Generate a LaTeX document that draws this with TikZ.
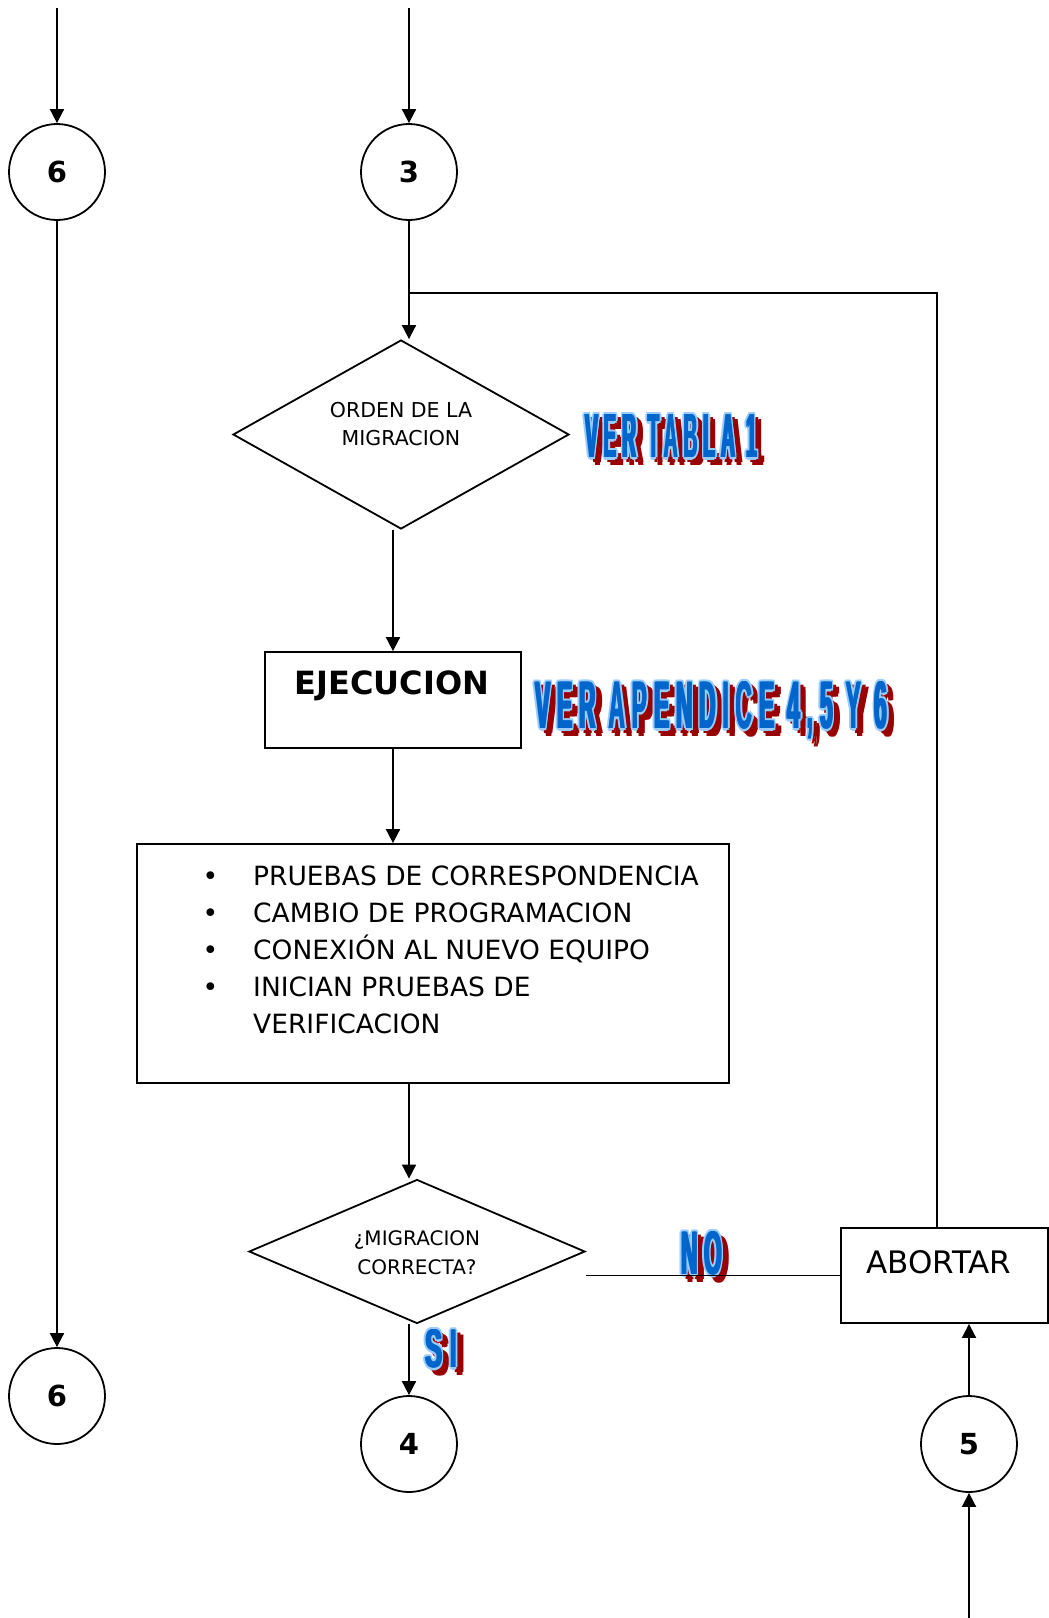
\documentclass[tikz,border=0pt]{standalone}
\usepackage{fontspec}
\usepackage{graphicx}
\setmainfont{DejaVu Sans}
\newfontfamily\wafont{Liberation Sans}[LetterSpace=30]
\usetikzlibrary{shapes.geometric,arrows.meta}
\definecolor{waBlue}{HTML}{0066CC}
\definecolor{waLight}{HTML}{99CCFF}
\definecolor{waRed}{HTML}{990000}
\newcommand\waG[3]{\resizebox{#1}{#2}{\wafont\bfseries #3}}
\newcommand\wacopy[6]{\rlap{\hspace*{#1}\raisebox{#2}{\textcolor{#3}{\waG{#4}{#5}{#6}}}}}
\newcommand\wart[3]{%
  \wacopy{3pt}{-5pt}{waRed}{#1}{#2}{#3}%
  \wacopy{8pt}{-5pt}{waRed}{#1}{#2}{#3}%
  \wacopy{5.5pt}{-3pt}{waRed}{#1}{#2}{#3}%
  \wacopy{5.5pt}{-8pt}{waRed}{#1}{#2}{#3}%
  \wacopy{7.5pt}{-7.5pt}{waRed}{#1}{#2}{#3}%
  \wacopy{-2.5pt}{0pt}{waLight}{#1}{#2}{#3}%
  \wacopy{2.5pt}{0pt}{waLight}{#1}{#2}{#3}%
  \wacopy{0pt}{2.5pt}{waLight}{#1}{#2}{#3}%
  \wacopy{0pt}{-2.5pt}{waLight}{#1}{#2}{#3}%
  \wacopy{1.8pt}{1.8pt}{waLight}{#1}{#2}{#3}%
  \wacopy{-1.8pt}{1.8pt}{waLight}{#1}{#2}{#3}%
  \wacopy{1.8pt}{-1.8pt}{waLight}{#1}{#2}{#3}%
  \wacopy{-1.8pt}{-1.8pt}{waLight}{#1}{#2}{#3}%
  \wacopy{-0.8pt}{0pt}{waBlue}{#1}{#2}{#3}%
  \wacopy{0.8pt}{0pt}{waBlue}{#1}{#2}{#3}%
  \textcolor{waBlue}{\waG{#1}{#2}{#3}}}
\begin{document}
\begin{tikzpicture}[x=1pt,y=-1pt,
  ln/.style={line width=1.8pt,draw=black},
  arr/.style={-{Triangle[width=14pt,length=14pt]}},
  conn/.style={circle,draw,line width=1.8pt,minimum size=96pt,inner sep=0pt,
    font=\fontsize{29pt}{34pt}\selectfont\bfseries},
  boxn/.style={rectangle,draw,line width=1.8pt,inner sep=0pt},
  dia/.style={diamond,draw,line width=1.8pt,aspect=2,inner sep=0pt},
  txt/.style={inner sep=0pt,align=center},
  wa/.style={inner sep=0pt,anchor=north west}]
\useasboundingbox (0,0) rectangle (1049,1618);
% connectors (circles)
\node[conn] (c6a) at (57,172) {6};
\node[conn] (c3) at (409,172) {3};
\node[conn] (c6b) at (57,1396) {6};
\node[conn] (c4) at (409,1444) {4};
\node[conn] (c5) at (969,1444) {5};
% shapes
\node[dia,minimum width=336pt,minimum height=189pt] (d1) at (401,434.5) {};
\node[txt,font=\fontsize{20.5pt}{28pt}\selectfont] (d1t) at (401,424) {ORDEN DE LA\\MIGRACION};
\node[boxn,minimum width=256pt,minimum height=96pt] (ej) at (393,700) {};
\node[txt,font=\fontsize{32pt}{36pt}\selectfont\bfseries] (ejt) at (392,686) {EJECUCION};
\node[boxn,minimum width=592pt,minimum height=239pt] (big) at (433,963.5) {};
\node[inner sep=0pt,anchor=north west,align=left,font=\fontsize{26.5pt}{37pt}\selectfont] (lst) at (253,865.5)
  {\llap{\textbullet\hspace{35pt}}PRUEBAS DE CORRESPONDENCIA\\
   \llap{\textbullet\hspace{35pt}}CAMBIO DE PROGRAMACION\\
   \llap{\textbullet\hspace{35pt}}CONEXIÓN AL NUEVO EQUIPO\\
   \llap{\textbullet\hspace{35pt}}INICIAN PRUEBAS DE\\
   VERIFICACION};
\node[dia,minimum width=336pt,minimum height=144pt] (d2) at (417,1251.5) {};
\node[txt,font=\fontsize{20pt}{29pt}\selectfont] (d2t) at (417,1252.5) {¿MIGRACION\\CORRECTA?};
\node[boxn,minimum width=207pt,minimum height=95pt] (ab) at (944.5,1275.5) {};
\node[txt,font=\fontsize{31pt}{34pt}\selectfont] (abt) at (939,1262) {ABORTAR};
% WordArt labels
\node[wa] (w1) at (585,412) {\wart{172pt}{43pt}{VER TABLA 1}};
\node[wa] (w2) at (535,679) {\wart{352pt}{47pt}{VER APENDICE 4,5 Y 6}};
\node[wa] (wno) at (681,1229) {\wart{41pt}{43pt}{NO}};
\node[wa] (wsi) at (425,1327) {\wart{32pt}{38pt}{SI}};
% free ends
\coordinate (top6) at (57,8);
\coordinate (top3) at (409,8);
\coordinate (bot5) at (969,1618);
\coordinate (jn) at (409,293);
\coordinate (lr) at (937,293);
% connectors
\draw[ln,arr] (top6) -- (c6a.north);
\draw[ln,arr] (top3) -- (c3.north);
\draw[ln,arr] (c6a.south) -- (c6b.north);
\draw[ln,arr] (c3.south) -- (c3.south |- d1.north);
\draw[ln] (lr |- ab.north) -- (lr) -- (jn);
\draw[ln,arr] (ej.north |- d1.south) -- (ej.north);
\draw[ln,arr] (ej.south) -- (ej.south |- big.north);
\draw[ln,arr] (big.south -| c4) -- (c4 |- d2.north);
\draw[ln,arr] (c4 |- d2.south) -- (c4.north);
\draw[ln] (d2.east |- ab.west) -- (ab.west);
\draw[ln,arr] (c5.north) -- (c5.north |- ab.south);
\draw[ln,arr] (bot5) -- (c5.south);
\end{tikzpicture}
\end{document}
